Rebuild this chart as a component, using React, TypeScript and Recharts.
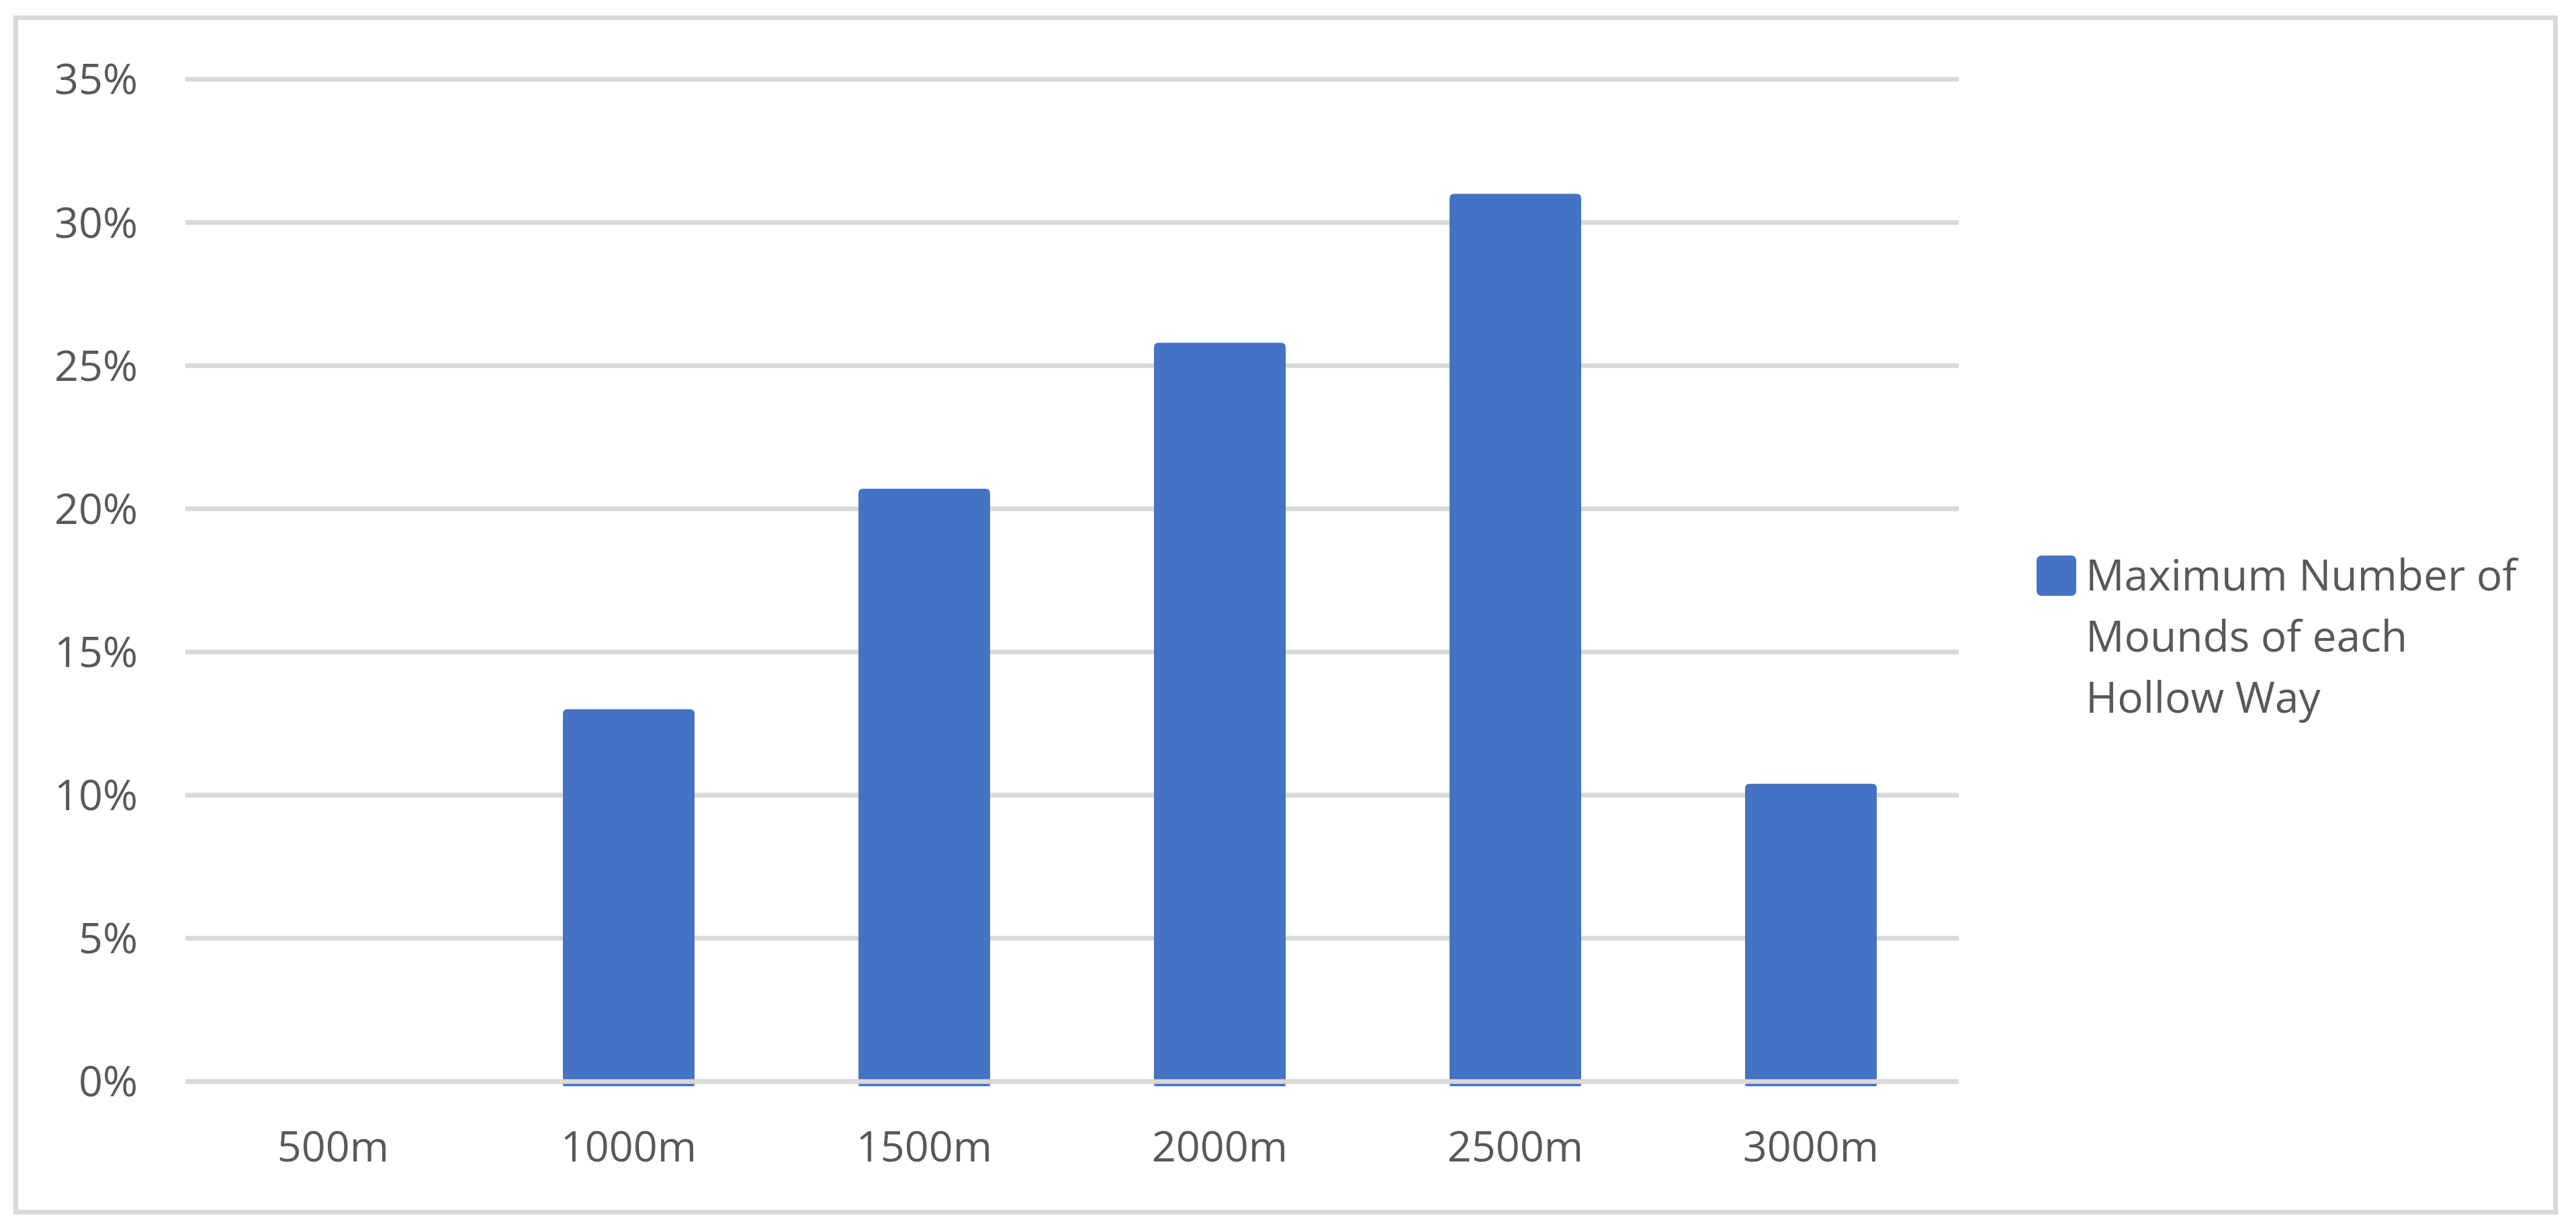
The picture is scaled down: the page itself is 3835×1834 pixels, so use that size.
import { Bar, BarChart, CartesianGrid, Legend, ReferenceLine, XAxis, YAxis } from 'recharts'

const distances = ['500m', '1000m', '1500m', '2000m', '2500m', '3000m']
const maxMoundsShare = [0, 13.0, 20.7, 25.8, 31.0, 10.4]
const yTicks = [0, 5, 10, 15, 20, 25, 30, 35]
const seriesName = 'Maximum Number of Mounds of each Hollow Way'

const chartData = distances.map((d, i) => ({ distance: d, share: maxMoundsShare[i] }))

const textColor = '#595959'
const gridColor = '#d9d9d9'
const barColor = '#4472C4'
const font = '"Open Sans", sans-serif'

// bar with rounded top, running a little under the zero line like the original
function MoundBar(props: any) {
  const { x, y, width, height, fill } = props
  if (!height || height <= 0) return null
  const r = 7
  const bottom = y + height + 7
  const d = `M${x},${y + r} Q${x},${y} ${x + r},${y} L${x + width - r},${y} Q${x + width},${y} ${x + width},${y + r}
    L${x + width},${bottom - 2} Q${x + width},${bottom} ${x + width - 2},${bottom} L${x + 2},${bottom} Q${x},${bottom} ${x},${bottom - 2} Z`
  return <path d={d} fill={fill} />
}

function LegendBox() {
  return (
    <div style={{ display: 'flex', alignItems: 'flex-start', fontFamily: font, fontSize: 64, lineHeight: '91px', color: textColor }}>
      <div style={{ width: 59, height: 60, background: barColor, borderRadius: 7, marginTop: 18, marginRight: 14, flexShrink: 0 }} />
      <div style={{ width: 670 }}>{seriesName}</div>
    </div>
  )
}

export default function App() {
  return (
    <div style={{ position: 'relative', width: 3835, height: 1834, background: '#fff' }}>
      <style>{'body{margin:0}'}</style>
      <div
        style={{
          position: 'absolute',
          left: 20,
          top: 23,
          width: 3788,
          height: 1785,
          border: `7px solid ${gridColor}`,
          boxSizing: 'border-box'
        }}
      />
      <BarChart
        width={3835}
        height={1834}
        data={chartData}
        margin={{ top: 118, right: 159, bottom: 74, left: 0 }}
        barSize={196}
      >
        <CartesianGrid vertical={false} stroke={gridColor} strokeWidth={7} />
        <XAxis
          dataKey="distance"
          axisLine={false}
          tickLine={false}
          height={150}
          tickMargin={68}
          tick={{ fill: textColor, fontSize: 63, fontFamily: font }}
        />
        <YAxis
          domain={[0, 35]}
          ticks={yTicks}
          tickFormatter={(v: number) => `${v}%`}
          axisLine={false}
          tickLine={false}
          width={276}
          tickMargin={65}
          tick={{ fill: textColor, fontSize: 63, fontFamily: font }}
        />
        <Bar dataKey="share" name={seriesName} fill={barColor} shape={MoundBar} isAnimationActive={false} />
        <ReferenceLine y={0} stroke={gridColor} strokeWidth={7} />
        <Legend
          layout="horizontal"
          verticalAlign="middle"
          align="right"
          content={() => <LegendBox />}
          wrapperStyle={{ left: 3032, top: 809, width: 760, height: 280 }}
        />
      </BarChart>
    </div>
  )
}
